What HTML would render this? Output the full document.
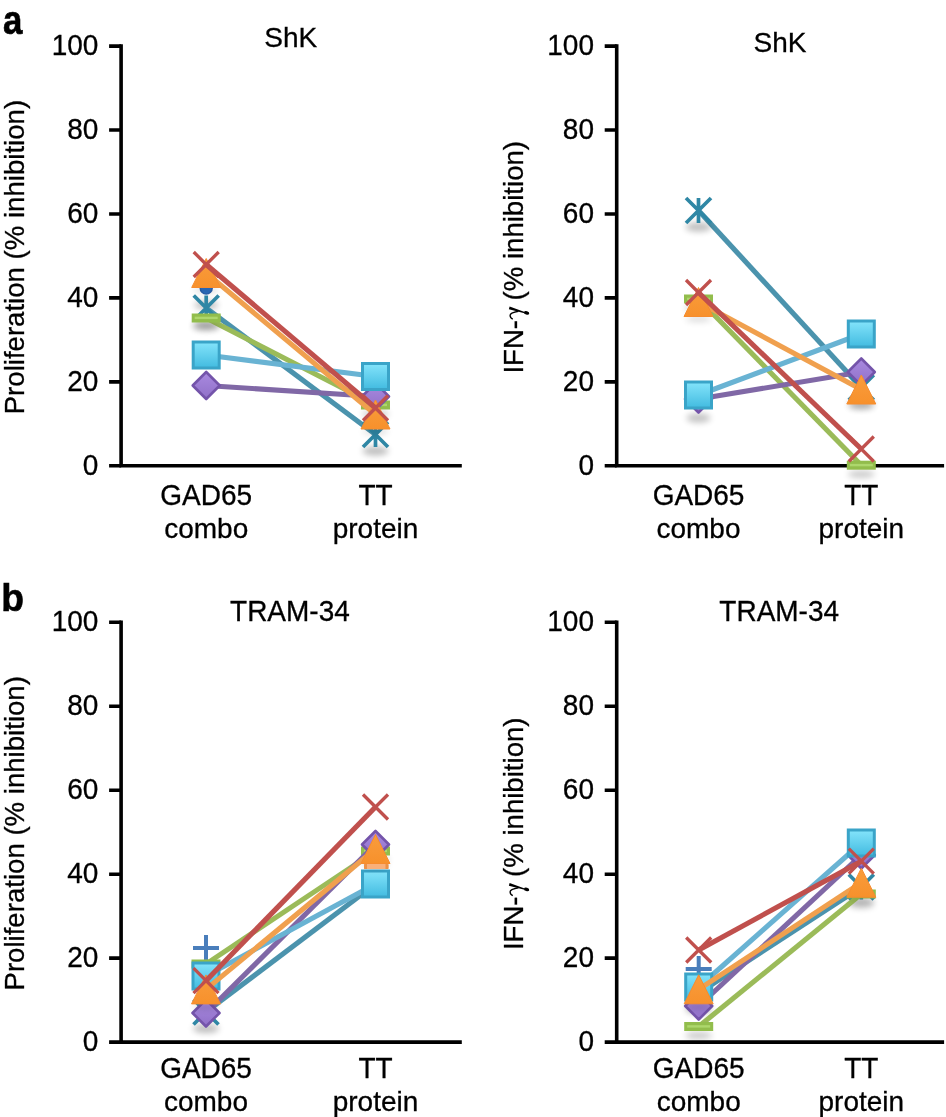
<!DOCTYPE html>
<html><head><meta charset="utf-8"><title>figure</title>
<style>
html,body{margin:0;padding:0;background:#fff;}
body{width:946px;height:1117px;overflow:hidden;font-family:"Liberation Sans",sans-serif;}
svg{display:block;will-change:transform;}
text{stroke:#000;stroke-width:0.3px;}
</style></head>
<body>
<svg width="946" height="1117" viewBox="0 0 946 1117">
<defs>
<filter id="blr" x="-50%" y="-100%" width="200%" height="300%"><feGaussianBlur stdDeviation="3"/></filter>
<filter id="sh" x="-50%" y="-50%" width="200%" height="200%">
<feDropShadow dx="0" dy="8" stdDeviation="3.5" flood-color="#000" flood-opacity="0.3"/>
</filter>
<filter id="shT" x="-50%" y="-50%" width="200%" height="200%">
<feDropShadow dx="0" dy="6" stdDeviation="3" flood-color="#000" flood-opacity="0.12"/>
</filter>
<linearGradient id="gSq" x1="0" y1="0" x2="0" y2="1">
<stop offset="0" stop-color="#84e4fb"/><stop offset="1" stop-color="#42bbe0"/>
</linearGradient>
<linearGradient id="gDi" x1="0" y1="0" x2="0" y2="1">
<stop offset="0" stop-color="#a98ae0"/><stop offset="1" stop-color="#9070c8"/>
</linearGradient>
<linearGradient id="gTr" x1="0" y1="0" x2="0" y2="1">
<stop offset="0" stop-color="#f99c3c"/><stop offset="1" stop-color="#f7912c"/>
</linearGradient>
</defs>
<g font-family="Liberation Sans, sans-serif" font-size="28" fill="#000">
<text transform="translate(2.9 33.9) scale(0.86 1)" font-weight="bold" font-size="40.5" style="stroke-width:0.7px">a</text>
<text transform="translate(1.3 611.1) scale(0.955 1)" font-weight="bold" font-size="39" style="stroke-width:0.6px">b</text>
<path d="M121.1 46.1V465.8H460.0" stroke="#000" stroke-width="3.6" fill="none" stroke-linecap="square"/>
<path d="M109.1 46.1H121.1M109.1 130.0H121.1M109.1 214.0H121.1M109.1 297.9H121.1M109.1 381.9H121.1M109.1 465.8H121.1" stroke="#000" stroke-width="3.6" fill="none"/>
<text transform="translate(98.4 54.8) scale(1 1.025)" text-anchor="end">100</text>
<text transform="translate(98.4 138.7) scale(1 1.025)" text-anchor="end">80</text>
<text transform="translate(98.4 222.7) scale(1 1.025)" text-anchor="end">60</text>
<text transform="translate(98.4 306.6) scale(1 1.025)" text-anchor="end">40</text>
<text transform="translate(98.4 390.6) scale(1 1.025)" text-anchor="end">20</text>
<text transform="translate(98.4 474.5) scale(1 1.025)" text-anchor="end">0</text>
<text transform="translate(290.8 46.8) scale(1 1.0)" text-anchor="middle">ShK</text>
<text transform="translate(206.2 505.0) scale(1 1.05)" text-anchor="middle">GAD65</text>
<text x="206.2" y="538.0" text-anchor="middle">combo</text>
<text transform="translate(375.5 505.0) scale(1 1.05)" text-anchor="middle">TT</text>
<text x="375.5" y="538.0" text-anchor="middle">protein</text>
<text transform="translate(23.8 257.1) rotate(-90)" text-anchor="middle" font-size="27.6">Proliferation (% inhibition)</text>
<g><ellipse cx="206.2" cy="305.0" rx="12" ry="4.5" fill="#000" opacity="0.24" filter="url(#blr)"/><circle cx="206.2" cy="288.0" r="6" fill="#2d6fc2" stroke="#2a62b0" stroke-width="1.5"/></g>
<g><line x1="206.2" y1="308.0" x2="375.5" y2="434.5" stroke="#4b93ad" stroke-width="5.1"/><ellipse cx="206.2" cy="324.5" rx="13" ry="4.5" fill="#000" opacity="0.26" filter="url(#blr)"/><ellipse cx="375.5" cy="451.0" rx="13" ry="4.5" fill="#000" opacity="0.26" filter="url(#blr)"/><path d="M193.7 295.5L218.7 320.5M218.7 295.5L193.7 320.5M206.2 295.5L206.2 320.5" stroke="#2f87a5" stroke-width="3.7" fill="none"/><path d="M363.0 422.0L388.0 447.0M388.0 422.0L363.0 447.0M375.5 422.0L375.5 447.0" stroke="#2f87a5" stroke-width="3.7" fill="none"/></g>
<g><line x1="206.2" y1="318.0" x2="375.5" y2="405.0" stroke="#9bbb59" stroke-width="5.1"/><ellipse cx="206.2" cy="327.0" rx="13.5" ry="3.5" fill="#000" opacity="0.22" filter="url(#blr)"/><ellipse cx="375.5" cy="414.0" rx="13.5" ry="3.5" fill="#000" opacity="0.22" filter="url(#blr)"/><g><rect x="191.7" y="313.5" width="29" height="9" fill="#92bd4c"/><rect x="194.7" y="316.7" width="23" height="2.4" fill="#add76c"/></g><g><rect x="361.0" y="400.5" width="29" height="9" fill="#92bd4c"/><rect x="364.0" y="403.7" width="23" height="2.4" fill="#add76c"/></g></g>
<g><line x1="206.2" y1="385.5" x2="375.5" y2="396.5" stroke="#8068a6" stroke-width="5.1"/><path d="M206.2 372.0L219.7 385.5L206.2 399.0L192.7 385.5Z" fill="url(#gDi)" stroke="#7454aa" stroke-width="2.6" stroke-linejoin="round"/><path d="M375.5 383.0L389.0 396.5L375.5 410.0L362.0 396.5Z" fill="url(#gDi)" stroke="#7454aa" stroke-width="2.6" stroke-linejoin="round"/></g>
<g><line x1="206.2" y1="355.0" x2="375.5" y2="376.5" stroke="#69b3d3" stroke-width="5.1"/><rect x="193.2" y="342.0" width="26" height="26" fill="url(#gSq)" stroke="#3aa4c8" stroke-width="3"/><rect x="362.5" y="363.5" width="26" height="26" fill="url(#gSq)" stroke="#3aa4c8" stroke-width="3"/></g>
<g><line x1="206.2" y1="273.0" x2="375.5" y2="414.5" stroke="#f0a04e" stroke-width="5.1"/><ellipse cx="206.2" cy="290.0" rx="13" ry="3" fill="#000" opacity="0.14" filter="url(#blr)"/><ellipse cx="375.5" cy="431.5" rx="13" ry="3" fill="#000" opacity="0.14" filter="url(#blr)"/><path d="M206.2 258.5L220.7 287.5L191.7 287.5Z" fill="url(#gTr)" stroke="#f68c2e" stroke-width="1" stroke-linejoin="round"/><path d="M375.5 400.0L390.0 429.0L361.0 429.0Z" fill="url(#gTr)" stroke="#f68c2e" stroke-width="1" stroke-linejoin="round"/></g>
<g><line x1="206.2" y1="264.5" x2="375.5" y2="408.0" stroke="#c0504d" stroke-width="5.1"/><path d="M193.7 252.0L218.7 277.0M218.7 252.0L193.7 277.0" stroke="#c0504d" stroke-width="3.3" fill="none"/><path d="M363.0 395.5L388.0 420.5M388.0 395.5L363.0 420.5" stroke="#c0504d" stroke-width="3.3" fill="none"/></g>
<path d="M616.7 46.1V465.8H942.3" stroke="#000" stroke-width="3.6" fill="none" stroke-linecap="square"/>
<path d="M604.7 46.1H616.7M604.7 130.0H616.7M604.7 214.0H616.7M604.7 297.9H616.7M604.7 381.9H616.7M604.7 465.8H616.7" stroke="#000" stroke-width="3.6" fill="none"/>
<text transform="translate(594.0 54.8) scale(1 1.025)" text-anchor="end">100</text>
<text transform="translate(594.0 138.7) scale(1 1.025)" text-anchor="end">80</text>
<text transform="translate(594.0 222.7) scale(1 1.025)" text-anchor="end">60</text>
<text transform="translate(594.0 306.6) scale(1 1.025)" text-anchor="end">40</text>
<text transform="translate(594.0 390.6) scale(1 1.025)" text-anchor="end">20</text>
<text transform="translate(594.0 474.5) scale(1 1.025)" text-anchor="end">0</text>
<text transform="translate(780.0 51.8) scale(1 1.0)" text-anchor="middle">ShK</text>
<text transform="translate(698.5 505.0) scale(1 1.05)" text-anchor="middle">GAD65</text>
<text x="698.5" y="538.0" text-anchor="middle">combo</text>
<text transform="translate(861.3 505.0) scale(1 1.05)" text-anchor="middle">TT</text>
<text x="861.3" y="538.0" text-anchor="middle">protein</text>
<g transform="translate(523.0 257.0) rotate(-90)" font-size="27.6"><text x="-116.60" y="0">IFN-</text><g transform="translate(-62.96 0)"><path d="M13.5 -13.4L10.6 -14.1L6.8 1.5L8.0 1.7Z"/><ellipse cx="7.0" cy="3.6" rx="1.7" ry="2.7" transform="rotate(15.6 7.0 3.6)"/><path d="M8.7 -4.6C7.9 -9 6.6 -12.9 4.6 -12.9C2.8 -12.9 1.4 -11.8 0.8 -10.2" stroke="#000" stroke-width="1.35" fill="none"/></g><text x="-51.16" y="0" xml:space="preserve"> (% inhibition)</text></g>
<g><ellipse cx="698.5" cy="418.0" rx="12" ry="4.5" fill="#000" opacity="0.24" filter="url(#blr)"/><circle cx="698.5" cy="401.0" r="6" fill="#2d6fc2" stroke="#2a62b0" stroke-width="1.5"/></g>
<g><line x1="698.5" y1="210.5" x2="861.3" y2="387.5" stroke="#4b93ad" stroke-width="5.1"/><ellipse cx="698.5" cy="227.0" rx="13" ry="4.5" fill="#000" opacity="0.26" filter="url(#blr)"/><ellipse cx="861.3" cy="404.0" rx="13" ry="4.5" fill="#000" opacity="0.26" filter="url(#blr)"/><path d="M686.0 198.0L711.0 223.0M711.0 198.0L686.0 223.0M698.5 198.0L698.5 223.0" stroke="#2f87a5" stroke-width="3.7" fill="none"/><path d="M848.8 375.0L873.8 400.0M873.8 375.0L848.8 400.0M861.3 375.0L861.3 400.0" stroke="#2f87a5" stroke-width="3.7" fill="none"/></g>
<g><line x1="698.5" y1="299.0" x2="861.3" y2="465.2" stroke="#9bbb59" stroke-width="5.1"/><ellipse cx="698.5" cy="308.0" rx="13.5" ry="3.5" fill="#000" opacity="0.22" filter="url(#blr)"/><ellipse cx="861.3" cy="474.2" rx="13.5" ry="3.5" fill="#000" opacity="0.22" filter="url(#blr)"/><g><rect x="684.0" y="294.5" width="29" height="9" fill="#92bd4c"/><rect x="687.0" y="297.7" width="23" height="2.4" fill="#add76c"/></g><g><rect x="846.8" y="460.7" width="29" height="9" fill="#92bd4c"/><rect x="849.8" y="463.9" width="23" height="2.4" fill="#add76c"/></g></g>
<g><line x1="698.5" y1="399.0" x2="861.3" y2="372.0" stroke="#8068a6" stroke-width="5.1"/><path d="M698.5 385.5L712.0 399.0L698.5 412.5L685.0 399.0Z" fill="url(#gDi)" stroke="#7454aa" stroke-width="2.6" stroke-linejoin="round"/><path d="M861.3 358.5L874.8 372.0L861.3 385.5L847.8 372.0Z" fill="url(#gDi)" stroke="#7454aa" stroke-width="2.6" stroke-linejoin="round"/></g>
<g><line x1="698.5" y1="395.0" x2="861.3" y2="334.0" stroke="#69b3d3" stroke-width="5.1"/><rect x="685.5" y="382.0" width="26" height="26" fill="url(#gSq)" stroke="#3aa4c8" stroke-width="3"/><rect x="848.3" y="321.0" width="26" height="26" fill="url(#gSq)" stroke="#3aa4c8" stroke-width="3"/></g>
<g><line x1="698.5" y1="302.0" x2="861.3" y2="389.5" stroke="#f0a04e" stroke-width="5.1"/><ellipse cx="698.5" cy="319.0" rx="13" ry="3" fill="#000" opacity="0.14" filter="url(#blr)"/><ellipse cx="861.3" cy="406.5" rx="13" ry="3" fill="#000" opacity="0.14" filter="url(#blr)"/><path d="M698.5 287.5L713.0 316.5L684.0 316.5Z" fill="url(#gTr)" stroke="#f68c2e" stroke-width="1" stroke-linejoin="round"/><path d="M861.3 375.0L875.8 404.0L846.8 404.0Z" fill="url(#gTr)" stroke="#f68c2e" stroke-width="1" stroke-linejoin="round"/></g>
<g><line x1="698.5" y1="292.5" x2="861.3" y2="449.0" stroke="#c0504d" stroke-width="5.1"/><path d="M686.0 280.0L711.0 305.0M711.0 280.0L686.0 305.0" stroke="#c0504d" stroke-width="3.3" fill="none"/><path d="M848.8 436.5L873.8 461.5M873.8 436.5L848.8 461.5" stroke="#c0504d" stroke-width="3.3" fill="none"/></g>
<path d="M121.1 622.3V1042.1H460.0" stroke="#000" stroke-width="3.6" fill="none" stroke-linecap="square"/>
<path d="M109.1 622.3H121.1M109.1 706.3H121.1M109.1 790.2H121.1M109.1 874.2H121.1M109.1 958.1H121.1M109.1 1042.1H121.1" stroke="#000" stroke-width="3.6" fill="none"/>
<text transform="translate(98.4 631.0) scale(1 1.025)" text-anchor="end">100</text>
<text transform="translate(98.4 715.0) scale(1 1.025)" text-anchor="end">80</text>
<text transform="translate(98.4 798.9) scale(1 1.025)" text-anchor="end">60</text>
<text transform="translate(98.4 882.9) scale(1 1.025)" text-anchor="end">40</text>
<text transform="translate(98.4 966.8) scale(1 1.025)" text-anchor="end">20</text>
<text transform="translate(98.4 1050.8) scale(1 1.025)" text-anchor="end">0</text>
<text transform="translate(289.9 620.8) scale(1 1.05)" text-anchor="middle">TRAM-34</text>
<text transform="translate(206.0 1077.7) scale(1 1.05)" text-anchor="middle">GAD65</text>
<text x="206.0" y="1110.7" text-anchor="middle">combo</text>
<text transform="translate(375.5 1077.7) scale(1 1.05)" text-anchor="middle">TT</text>
<text x="375.5" y="1110.7" text-anchor="middle">protein</text>
<text transform="translate(23.8 833.3) rotate(-90)" text-anchor="middle" font-size="27.6">Proliferation (% inhibition)</text>
<g><path d="M193.0 948.0L219.0 948.0M206.0 935.0L206.0 961.0" stroke="#4a7ebb" stroke-width="4" fill="none"/></g>
<g><line x1="206.0" y1="1012.0" x2="375.5" y2="884.0" stroke="#4b93ad" stroke-width="5.1"/><ellipse cx="206.0" cy="1028.5" rx="13" ry="4.5" fill="#000" opacity="0.26" filter="url(#blr)"/><path d="M193.5 999.5L218.5 1024.5M218.5 999.5L193.5 1024.5M206.0 999.5L206.0 1024.5" stroke="#2f87a5" stroke-width="3.7" fill="none"/><path d="M363.0 871.5L388.0 896.5M388.0 871.5L363.0 896.5M375.5 871.5L375.5 896.5" stroke="#2f87a5" stroke-width="3.7" fill="none"/></g>
<g><line x1="206.0" y1="964.0" x2="375.5" y2="851.0" stroke="#9bbb59" stroke-width="5.1"/><ellipse cx="375.5" cy="860.0" rx="13.5" ry="3.5" fill="#000" opacity="0.22" filter="url(#blr)"/><g><rect x="191.5" y="959.5" width="29" height="9" fill="#92bd4c"/><rect x="194.5" y="962.7" width="23" height="2.4" fill="#add76c"/></g><g><rect x="361.0" y="846.5" width="29" height="9" fill="#92bd4c"/><rect x="364.0" y="849.7" width="23" height="2.4" fill="#add76c"/></g></g>
<g><line x1="206.0" y1="1013.0" x2="375.5" y2="844.5" stroke="#8068a6" stroke-width="5.1"/><path d="M206.0 999.5L219.5 1013.0L206.0 1026.5L192.5 1013.0Z" fill="url(#gDi)" stroke="#7454aa" stroke-width="2.6" stroke-linejoin="round"/><path d="M375.5 831.0L389.0 844.5L375.5 858.0L362.0 844.5Z" fill="url(#gDi)" stroke="#7454aa" stroke-width="2.6" stroke-linejoin="round"/></g>
<g><line x1="206.0" y1="976.0" x2="375.5" y2="884.0" stroke="#69b3d3" stroke-width="5.1"/><rect x="193.0" y="963.0" width="26" height="26" fill="url(#gSq)" stroke="#3aa4c8" stroke-width="3"/><rect x="362.5" y="871.0" width="26" height="26" fill="url(#gSq)" stroke="#3aa4c8" stroke-width="3"/></g>
<g><line x1="206.0" y1="989.4" x2="375.5" y2="849.0" stroke="#f0a04e" stroke-width="5.1"/><ellipse cx="206.0" cy="1006.4" rx="13" ry="3" fill="#000" opacity="0.14" filter="url(#blr)"/><ellipse cx="375.5" cy="866.0" rx="13" ry="3" fill="#000" opacity="0.14" filter="url(#blr)"/><path d="M206.0 974.9L220.5 1003.9L191.5 1003.9Z" fill="url(#gTr)" stroke="#f68c2e" stroke-width="1" stroke-linejoin="round"/><path d="M375.5 834.5L390.0 863.5L361.0 863.5Z" fill="url(#gTr)" stroke="#f68c2e" stroke-width="1" stroke-linejoin="round"/></g>
<g><line x1="206.0" y1="980.7" x2="375.5" y2="807.0" stroke="#c0504d" stroke-width="5.1"/><path d="M193.5 968.2L218.5 993.2M218.5 968.2L193.5 993.2" stroke="#c0504d" stroke-width="3.3" fill="none"/><path d="M363.0 794.5L388.0 819.5M388.0 794.5L363.0 819.5" stroke="#c0504d" stroke-width="3.3" fill="none"/></g>
<path d="M616.7 622.3V1042.1H942.3" stroke="#000" stroke-width="3.6" fill="none" stroke-linecap="square"/>
<path d="M604.7 622.3H616.7M604.7 706.3H616.7M604.7 790.2H616.7M604.7 874.2H616.7M604.7 958.1H616.7M604.7 1042.1H616.7" stroke="#000" stroke-width="3.6" fill="none"/>
<text transform="translate(594.0 631.0) scale(1 1.025)" text-anchor="end">100</text>
<text transform="translate(594.0 715.0) scale(1 1.025)" text-anchor="end">80</text>
<text transform="translate(594.0 798.9) scale(1 1.025)" text-anchor="end">60</text>
<text transform="translate(594.0 882.9) scale(1 1.025)" text-anchor="end">40</text>
<text transform="translate(594.0 966.8) scale(1 1.025)" text-anchor="end">20</text>
<text transform="translate(594.0 1050.8) scale(1 1.025)" text-anchor="end">0</text>
<text transform="translate(779.2 620.8) scale(1 1.05)" text-anchor="middle">TRAM-34</text>
<text transform="translate(698.7 1077.7) scale(1 1.05)" text-anchor="middle">GAD65</text>
<text x="698.7" y="1110.7" text-anchor="middle">combo</text>
<text transform="translate(861.3 1077.7) scale(1 1.05)" text-anchor="middle">TT</text>
<text x="861.3" y="1110.7" text-anchor="middle">protein</text>
<g transform="translate(523.0 833.5) rotate(-90)" font-size="27.6"><text x="-116.60" y="0">IFN-</text><g transform="translate(-62.96 0)"><path d="M13.5 -13.4L10.6 -14.1L6.8 1.5L8.0 1.7Z"/><ellipse cx="7.0" cy="3.6" rx="1.7" ry="2.7" transform="rotate(15.6 7.0 3.6)"/><path d="M8.7 -4.6C7.9 -9 6.6 -12.9 4.6 -12.9C2.8 -12.9 1.4 -11.8 0.8 -10.2" stroke="#000" stroke-width="1.35" fill="none"/></g><text x="-51.16" y="0" xml:space="preserve"> (% inhibition)</text></g>
<g><path d="M685.7 968.9L711.7 968.9M698.7 955.9L698.7 981.9" stroke="#4a7ebb" stroke-width="4" fill="none"/></g>
<g><line x1="698.7" y1="993.0" x2="861.3" y2="887.0" stroke="#4b93ad" stroke-width="5.1"/><ellipse cx="698.7" cy="1009.5" rx="13" ry="4.5" fill="#000" opacity="0.26" filter="url(#blr)"/><ellipse cx="861.3" cy="903.5" rx="13" ry="4.5" fill="#000" opacity="0.26" filter="url(#blr)"/><path d="M686.2 980.5L711.2 1005.5M711.2 980.5L686.2 1005.5M698.7 980.5L698.7 1005.5" stroke="#2f87a5" stroke-width="3.7" fill="none"/><path d="M848.8 874.5L873.8 899.5M873.8 874.5L848.8 899.5M861.3 874.5L861.3 899.5" stroke="#2f87a5" stroke-width="3.7" fill="none"/></g>
<g><line x1="698.7" y1="1026.5" x2="861.3" y2="894.0" stroke="#9bbb59" stroke-width="5.1"/><ellipse cx="698.7" cy="1035.5" rx="13.5" ry="3.5" fill="#000" opacity="0.22" filter="url(#blr)"/><g><rect x="684.2" y="1022.0" width="29" height="9" fill="#92bd4c"/><rect x="687.2" y="1025.2" width="23" height="2.4" fill="#add76c"/></g><g><rect x="846.8" y="889.5" width="29" height="9" fill="#92bd4c"/><rect x="849.8" y="892.7" width="23" height="2.4" fill="#add76c"/></g></g>
<g><line x1="698.7" y1="1006.0" x2="861.3" y2="855.0" stroke="#8068a6" stroke-width="5.1"/><path d="M698.7 992.5L712.2 1006.0L698.7 1019.5L685.2 1006.0Z" fill="url(#gDi)" stroke="#7454aa" stroke-width="2.6" stroke-linejoin="round"/><path d="M861.3 841.5L874.8 855.0L861.3 868.5L847.8 855.0Z" fill="url(#gDi)" stroke="#7454aa" stroke-width="2.6" stroke-linejoin="round"/></g>
<g><line x1="698.7" y1="987.0" x2="861.3" y2="843.0" stroke="#69b3d3" stroke-width="5.1"/><rect x="685.7" y="974.0" width="26" height="26" fill="url(#gSq)" stroke="#3aa4c8" stroke-width="3"/><rect x="848.3" y="830.0" width="26" height="26" fill="url(#gSq)" stroke="#3aa4c8" stroke-width="3"/></g>
<g><line x1="698.7" y1="989.3" x2="861.3" y2="882.7" stroke="#f0a04e" stroke-width="5.1"/><ellipse cx="698.7" cy="1006.3" rx="13" ry="3" fill="#000" opacity="0.14" filter="url(#blr)"/><ellipse cx="861.3" cy="899.7" rx="13" ry="3" fill="#000" opacity="0.14" filter="url(#blr)"/><path d="M698.7 974.8L713.2 1003.8L684.2 1003.8Z" fill="url(#gTr)" stroke="#f68c2e" stroke-width="1" stroke-linejoin="round"/><path d="M861.3 868.2L875.8 897.2L846.8 897.2Z" fill="url(#gTr)" stroke="#f68c2e" stroke-width="1" stroke-linejoin="round"/></g>
<g><line x1="698.7" y1="950.0" x2="861.3" y2="861.2" stroke="#c0504d" stroke-width="5.1"/><path d="M686.2 937.5L711.2 962.5M711.2 937.5L686.2 962.5" stroke="#c0504d" stroke-width="3.3" fill="none"/><path d="M848.8 848.7L873.8 873.7M873.8 848.7L848.8 873.7" stroke="#c0504d" stroke-width="3.3" fill="none"/></g>
<rect x="364" y="864" width="24.5" height="5" rx="1.5" fill="#f9b07a"/><rect x="364" y="864" width="3" height="5" fill="#e98a3a" opacity="0.8"/><rect x="385.5" y="864" width="3" height="5" fill="#e98a3a" opacity="0.8"/>
</g>
</svg>
</body></html>
